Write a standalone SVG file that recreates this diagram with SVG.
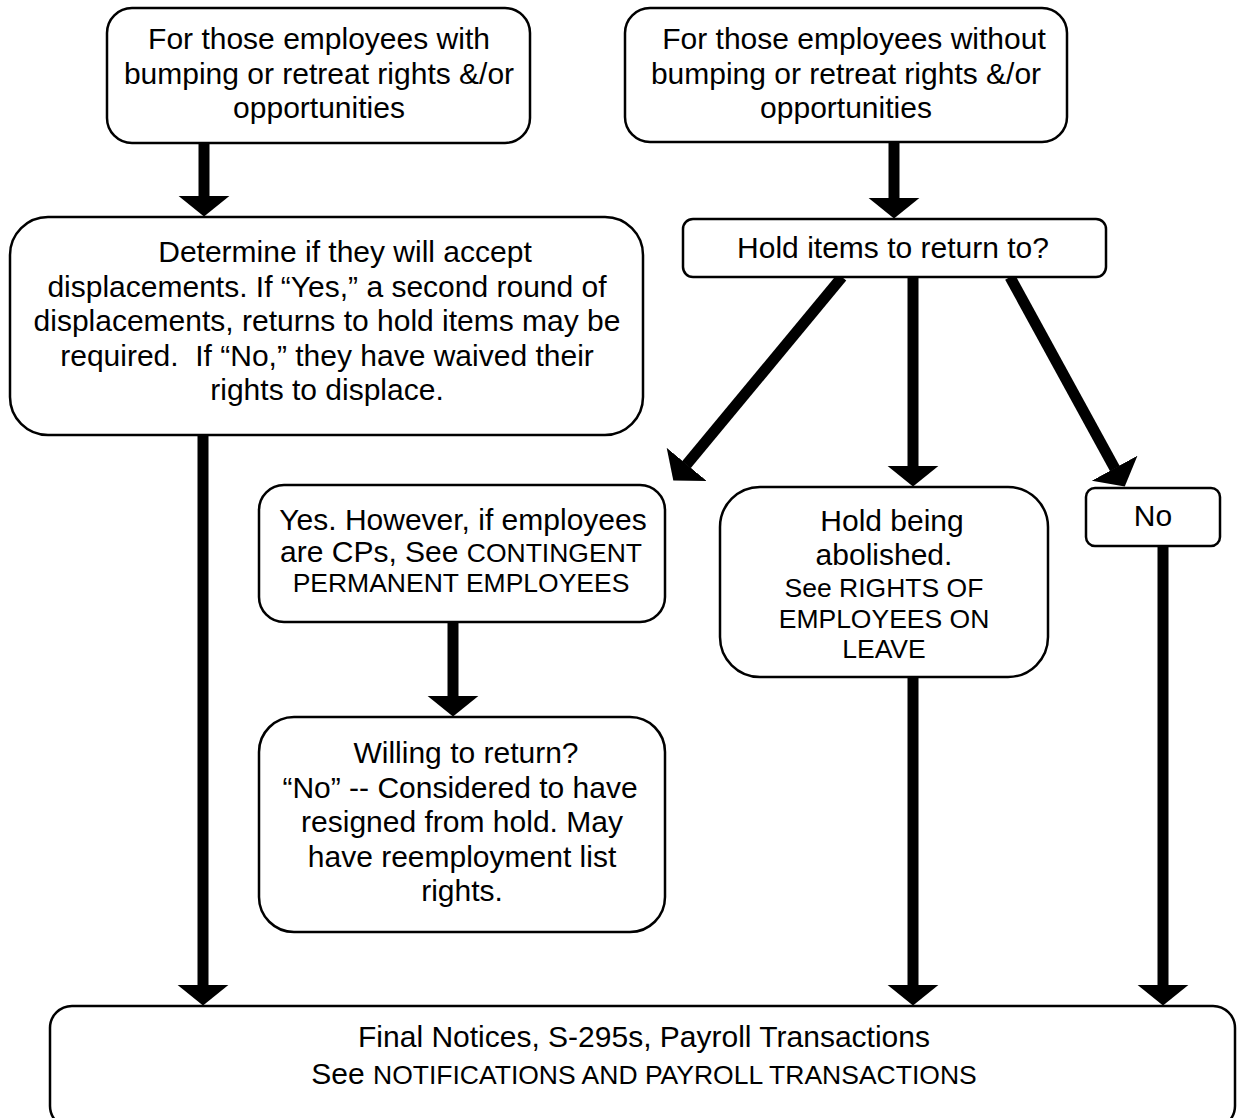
<svg xmlns="http://www.w3.org/2000/svg" width="1237" height="1118" viewBox="0 0 1237 1118">
<style>
.box{fill:#fff;stroke:#000;stroke-width:2.5}
.t{font-family:"Liberation Sans",Arial,Helvetica,sans-serif;font-size:30px;fill:#000;text-anchor:middle}
.s{font-size:26.5px}
.c{fill:none;stroke:#000;stroke-width:11}
</style>
<defs>
<marker id="ah" markerUnits="userSpaceOnUse" markerWidth="22" markerHeight="54" viewBox="0 0 22 54" refX="0.5" refY="27" orient="auto">
<path d="M0,1 L21,27 L0,53 Z" fill="#000"/>
</marker>
</defs>
<rect width="1237" height="1118" fill="#fff"/>
<g id="connectors">
<line class="c" x1="204" y1="143" x2="204" y2="196" marker-end="url(#ah)"/>
<line class="c" x1="894" y1="142" x2="894" y2="198" marker-end="url(#ah)"/>
<line class="c" x1="842" y1="277" x2="686.4" y2="464.8" marker-end="url(#ah)"/>
<line class="c" x1="913" y1="277" x2="913" y2="466" marker-end="url(#ah)"/>
<line class="c" x1="1010" y1="277" x2="1114.9" y2="468.6" marker-end="url(#ah)"/>
<line class="c" x1="453" y1="622" x2="453" y2="696" marker-end="url(#ah)"/>
<line class="c" x1="203" y1="435" x2="203" y2="985" marker-end="url(#ah)"/>
<line class="c" x1="913" y1="677" x2="913" y2="985" marker-end="url(#ah)"/>
<line class="c" x1="1163" y1="546" x2="1163" y2="985" marker-end="url(#ah)"/>
</g>
<g id="with-rights">
<rect class="box" x="107" y="8" width="423" height="135" rx="25"/>
<text class="t" x="319" y="49">For those employees with</text>
<text class="t" x="319" y="83.5">bumping or retreat rights &amp;/or</text>
<text class="t" x="319" y="118">opportunities</text>
</g>
<g id="without-rights">
<rect class="box" x="625" y="8" width="442" height="134" rx="25"/>
<text class="t" x="854" y="49">For those employees without</text>
<text class="t" x="846" y="83.5">bumping or retreat rights &amp;/or</text>
<text class="t" x="846" y="118">opportunities</text>
</g>
<g id="determine">
<rect class="box" x="10" y="217" width="633" height="218" rx="38"/>
<text class="t" x="345" y="262">Determine if they will accept</text>
<text class="t" x="327" y="296.5">displacements. If “Yes,” a second round of</text>
<text class="t" x="327" y="331">displacements, returns to hold items may be</text>
<text class="t" x="327" y="365.5" xml:space="preserve">required.  If “No,” they have waived their</text>
<text class="t" x="327" y="400">rights to displace.</text>
</g>
<g id="hold-items">
<rect class="box" x="683" y="219" width="423" height="58" rx="10"/>
<text class="t" x="893" y="258">Hold items to return to?</text>
</g>
<g id="yes">
<rect class="box" x="259" y="485" width="406" height="137" rx="25"/>
<text class="t" x="463" y="530">Yes. However, if employees</text>
<text class="t" x="461" y="562">are CPs, See <tspan class="s">CONTINGENT</tspan></text>
<text class="t s" x="461" y="592">PERMANENT EMPLOYEES</text>
</g>
<g id="willing">
<rect class="box" x="259" y="717" width="406" height="215" rx="35"/>
<text class="t" x="466" y="763">Willing to return?</text>
<text class="t" x="460" y="797.5">“No” -- Considered to have</text>
<text class="t" x="462" y="832">resigned from hold. May</text>
<text class="t" x="462" y="866.5">have reemployment list</text>
<text class="t" x="462" y="901">rights.</text>
</g>
<g id="hold-abolished">
<rect class="box" x="720" y="487" width="328" height="190" rx="40"/>
<text class="t" x="892" y="531">Hold being</text>
<text class="t" x="884" y="565">abolished.</text>
<text class="t s" x="884" y="597">See RIGHTS OF</text>
<text class="t s" x="884" y="627.5">EMPLOYEES ON</text>
<text class="t s" x="884" y="658">LEAVE</text>
</g>
<g id="no">
<rect class="box" x="1086" y="488" width="134" height="58" rx="9"/>
<text class="t" x="1153" y="526">No</text>
</g>
<g id="final">
<rect class="box" x="50" y="1006" width="1185" height="122" rx="22"/>
<text class="t" x="644" y="1047">Final Notices, S-295s, Payroll Transactions</text>
<text class="t" x="644" y="1084">See <tspan class="s">NOTIFICATIONS AND PAYROLL TRANSACTIONS</tspan></text>
</g>
</svg>
